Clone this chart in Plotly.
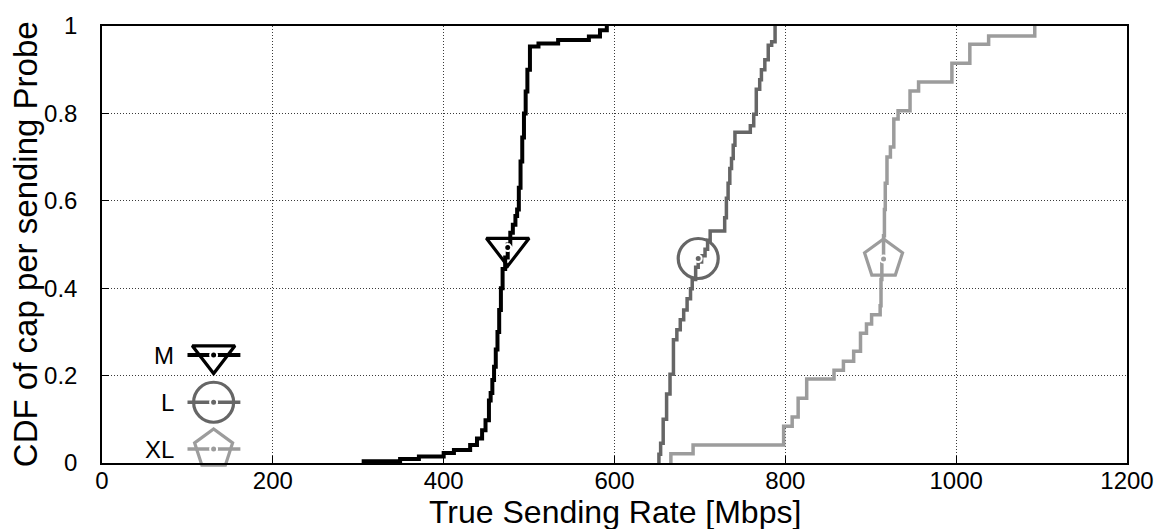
import plotly.graph_objects as go

# Measured sending rates (Mbps) and the empirical CDF reached at each rate
m_rate = [304, 349, 371, 400, 412, 431, 439, 445, 449, 453, 455, 457, 459, 461, 463,
          465, 467, 469, 472, 475, 478, 481, 484, 486, 488, 490, 492, 494, 496, 498,
          501, 511, 534, 570, 583, 591]
m_cdf = [0.004, 0.009, 0.015, 0.023, 0.030, 0.041, 0.056, 0.075, 0.098, 0.143, 0.16,
         0.19, 0.22, 0.26, 0.30, 0.35, 0.40, 0.444, 0.47, 0.50, 0.527, 0.545, 0.565,
         0.58, 0.63, 0.69, 0.745, 0.80, 0.85, 0.90, 0.953, 0.960, 0.968, 0.976, 0.99, 1.0]

l_rate = [650, 652, 654, 657, 661, 665, 669, 673, 677, 681, 685, 689, 691, 695, 698,
          702, 706, 709, 712, 729, 731, 733, 735, 737, 739, 741, 759, 763, 766, 770,
          772, 776, 780, 784, 788]
l_cdf = [0.0, 0.02, 0.045, 0.10, 0.158, 0.203, 0.282, 0.305, 0.328, 0.35, 0.376, 0.399,
         0.42, 0.448, 0.46, 0.474, 0.489, 0.51, 0.531, 0.561, 0.606, 0.64, 0.674, 0.697,
         0.727, 0.757, 0.772, 0.798, 0.855, 0.877, 0.9, 0.923, 0.956, 0.964, 1.0]

xl_rate = [665, 666, 692, 798, 808, 815, 825, 857, 868, 880, 888, 895, 901, 911, 912,
           913, 915, 916, 917, 919, 923, 927, 932, 946, 956, 995, 1016, 1038, 1092]
xl_cdf = [0.0, 0.021, 0.041, 0.084, 0.105, 0.148, 0.192, 0.212, 0.233, 0.256, 0.297,
          0.318, 0.339, 0.36, 0.42, 0.47, 0.52, 0.58, 0.64, 0.70, 0.723, 0.787, 0.806,
          0.851, 0.872, 0.915, 0.958, 0.977, 1.0]

# One highlighted point per curve
marker_rate = [475, 698, 915]
marker_cdf = [0.493, 0.468, 0.467]

names = ["M", "L", "XL"]
colors = ["#000000", "#666666", "#9c9c9c"]
symbols = ["triangle-down-open", "circle-open", "pentagon-open"]
sizes = [37, 40, 40]
widths = [4, 3.5, 3.5]

FONT = "Liberation Sans, Arial, Helvetica, sans-serif"

fig = go.Figure()

curves = [(m_rate, m_cdf), (l_rate, l_cdf), (xl_rate, xl_cdf)]
for (xs, ys), name, col, w in zip(curves, names, colors, widths):
    fig.add_trace(go.Scatter(x=xs, y=ys, mode="lines", name=name,
                             line=dict(color=col, width=w, shape="hv"),
                             showlegend=False))

for i in range(3):
    fig.add_trace(go.Scatter(
        x=[marker_rate[i]], y=[marker_cdf[i]], mode="markers", showlegend=False,
        marker=dict(symbol=symbols[i], size=sizes[i], color=colors[i],
                    line=dict(color=colors[i], width=3.2)),
        cliponaxis=False))
    fig.add_trace(go.Scatter(
        x=[marker_rate[i]], y=[marker_cdf[i]], mode="markers", showlegend=False,
        marker=dict(symbol="circle", size=7, color=colors[i],
                    line=dict(color="white", width=2)),
        cliponaxis=False))

# Key drawn inside the plot area, lower left (fractions of the plot area)
key_x0, key_x1, key_xm = 0.0834, 0.135, 0.1089
key_label_x = 0.0725
key_rows = [0.247, 0.139, 0.032]
for i in range(3):
    fig.add_trace(go.Scatter(
        x=[key_x0, key_x1], y=[key_rows[i]] * 2, mode="lines", xaxis="x2", yaxis="y2",
        showlegend=False, line=dict(color=colors[i], width=widths[i])))
    fig.add_trace(go.Scatter(
        x=[key_xm], y=[key_rows[i]], mode="markers", xaxis="x2", yaxis="y2",
        showlegend=False, cliponaxis=False,
        marker=dict(symbol=symbols[i], size=sizes[i], color=colors[i],
                    line=dict(color=colors[i], width=3.2))))
    fig.add_trace(go.Scatter(
        x=[key_xm], y=[key_rows[i]], mode="markers", xaxis="x2", yaxis="y2",
        showlegend=False, cliponaxis=False,
        marker=dict(symbol="circle", size=7, color=colors[i],
                    line=dict(color="white", width=2))))
    fig.add_annotation(x=key_label_x, y=key_rows[i], xref="paper", yref="paper",
                       text=names[i], showarrow=False, xanchor="right",
                       yanchor="middle", font=dict(family=FONT, size=24, color="black"))

# Axis titles
fig.add_annotation(x=0.5, y=-0.112, xref="paper", yref="paper",
                   text="True Sending Rate [Mbps]", showarrow=False,
                   xanchor="center", yanchor="middle", borderpad=0,
                   font=dict(family=FONT, size=32, color="black"))
fig.add_annotation(x=-0.0745, y=0.5, xref="paper", yref="paper",
                   text="CDF of cap per sending Probe", showarrow=False,
                   textangle=-90, xanchor="center", yanchor="middle", borderpad=0,
                   font=dict(family=FONT, size=33, color="black"))

axis_common = dict(
    showline=True, linecolor="black", linewidth=1.5, mirror=True,
    ticks="inside", ticklen=7, tickwidth=1.2, tickcolor="black",
    showgrid=True, gridcolor="#3a3a3a", gridwidth=1, griddash="1px,2px",
    zeroline=False, tickfont=dict(family=FONT, size=24, color="black"),
)

fig.update_layout(
    width=1172, height=529,
    margin=dict(l=102, r=45, t=21, b=66),
    paper_bgcolor="white", plot_bgcolor="white",
    showlegend=False,
    xaxis=dict(range=[0, 1200], tickvals=[0, 200, 400, 600, 800, 1000, 1200],
               ticklabelstandoff=-5, **axis_common),
    yaxis=dict(range=[0, 1], tickvals=[0, 0.2, 0.4, 0.6, 0.8, 1],
               ticktext=["0", "0.2", "0.4", "0.6", "0.8", "1"],
               ticklabelstandoff=18, **axis_common),
    xaxis2=dict(range=[0, 1], overlaying="x", visible=False),
    yaxis2=dict(range=[0, 1], overlaying="y", visible=False),
)

fig.write_html("out.html")
